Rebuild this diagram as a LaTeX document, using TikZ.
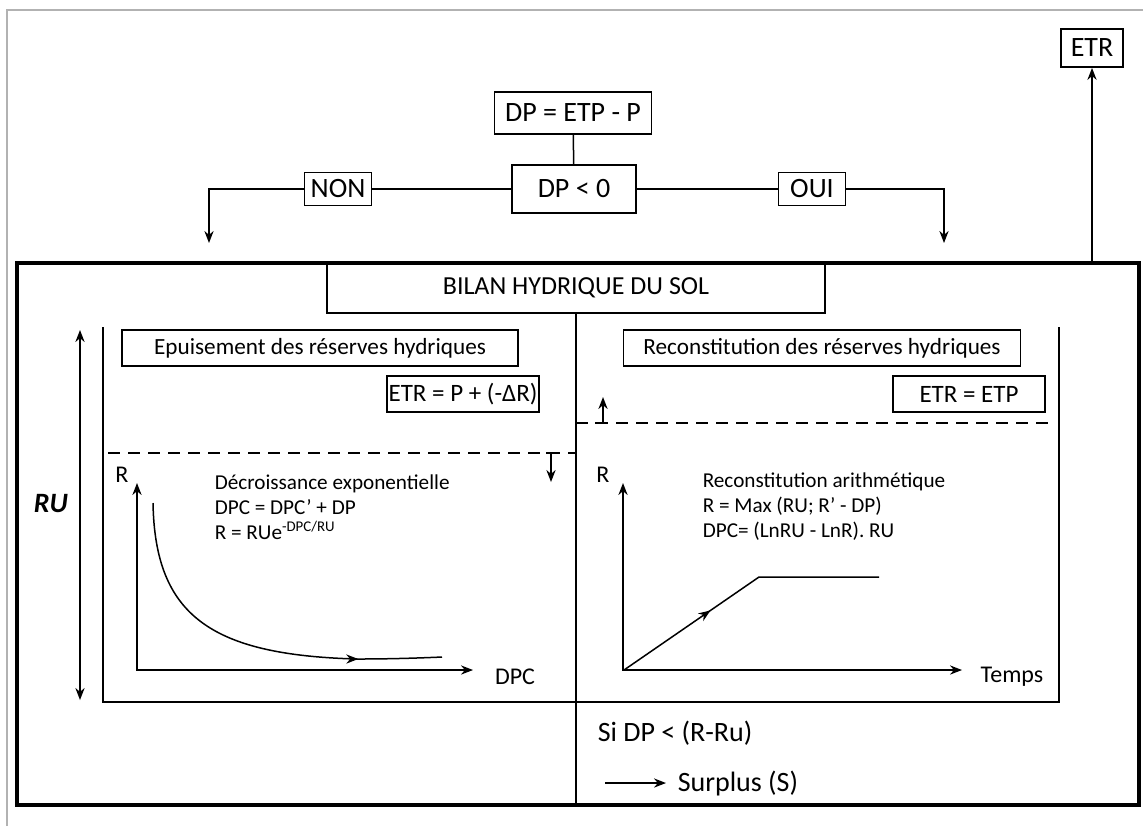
\documentclass[tikz,border=0pt]{standalone}
\usepackage{fontspec}
\setmainfont{Carlito}
\usepackage{tikz}
\usetikzlibrary{
        arrows.meta,
        decorations.markings,
        positioning
    }
\tikzset{>={Stealth[length=6pt,width=4.6pt]},auto}
\tikzset{
    box/.style={draw,line width=0.9pt,inner sep=0pt,font=\fontsize{14}{16}\selectfont},
    panelbox/.style={draw,line width=0.9pt,inner sep=0pt,minimum height=18pt,font=\fontsize{11.6}{14}\selectfont},
    formula/.style={anchor=west,align=left,inner sep=0pt,font=\fontsize{10.6}{12.5}\selectfont},
    midarrow/.style={postaction={decorate},decoration={markings,mark=at position #1 with {\arrow{>}}}}
}

\begin{document}
\begin{tikzpicture}[x=0.5pt,y=-0.5pt,line width=0.75pt,font=\fontsize{12}{14}\selectfont]
                    \useasboundingbox (0,0) rectangle (1143,826);
                    \draw[gray!60,line width=1pt] (7,826) -- (7,10) -- (1143,10);
                    \draw[line width=2pt] (17,263) rectangle (1139,805);

                    \node[box,minimum width=31pt,minimum height=19pt] (etr) at (1092,48) {ETR};
                    \node[box,minimum width=78.5pt,minimum height=21pt] (dp) at (573,113) {DP = ETP - P};
                    \node[box,minimum width=62pt,minimum height=24pt] (test) at (574,189) {DP < 0};
                    \node[box,minimum width=33.5pt,minimum height=16.5pt] (non) at (338,189) {NON};
                    \node[box,minimum width=33.5pt,minimum height=16.5pt] (oui) at (812,189) {OUI};
                    \coordinate (nonend) at (209,243);
                    \coordinate (ouiend) at (944,243);
                    \coordinate (solde) at (1092,263);
                    \path
                        (dp)  edge  (test)
                        (test)  edge  (non)
                        (test)  edge  (oui)
                    ;
                    \draw[->] (non) -| (nonend);
                    \draw[->] (oui) -| (ouiend);
                    \draw[->] (solde) -- (etr);

                    \node[box,minimum width=249pt,minimum height=25pt,font=\fontsize{13}{15}\selectfont] (bilan) at (576,288) {BILAN HYDRIQUE DU SOL};
                    \coordinate (fond) at (576,805);
                    \draw (bilan.south) -- (fond);
                    \draw (103,327) -- (103,702) -- (1059,702) -- (1059,327);

                    \node[panelbox,minimum width=198pt] (epuis) at (320,348) {Epuisement des réserves hydriques};
                    \node[panelbox,minimum width=198.5pt] (recon) at (822,348) {Reconstitution des réserves hydriques};
                    \node[panelbox,minimum width=76pt,font=\fontsize{12.5}{14}\selectfont] (etrp) at (463,394) {ETR = P + (-ΔR)};
                    \node[panelbox,minimum width=76pt,font=\fontsize{12.5}{14}\selectfont] (etretp) at (969,394) {ETR = ETP};

                    \draw[dash pattern=on 6pt off 4pt] (108,453) -- (576,453);
                    \draw[dash pattern=on 6pt off 4pt] (576,423) -- (1053,423);
                    \draw (546,453) -- (556,453);
                    \draw[->] (551,453) -- (551,482);
                    \draw (595,423) -- (603,423);
                    \draw[->] (603,423) -- (603,397);

                    \draw[<->] (80,330) -- (80,700);
                    \node[font=\bfseries\itshape\fontsize{14}{16}\selectfont] (ru) at (51,504) {RU};

                    \draw[<->] (137,483) -- (137,670) -- (473,670);
                    \node (r1) at (122,475) {R};
                    \node (dpc) at (515,677) {DPC};
                    \draw[midarrow=0.78] (153,503) .. controls (155,615) and (210,655) .. (357,659) .. controls (390,659) and (420,658) .. (442,657);
                    \node[formula] (decr) at (214,507) {Décroissance exponentielle\\DPC = DPC' + DP\\R = RUe\textsuperscript{-DPC/RU}};

                    \draw[<->] (623,483) -- (623,670) -- (962,670);
                    \node (r2) at (603,475) {R};
                    \node (temps) at (1012,677) {Temps};
                    \draw[midarrow=0.37] (624,670) -- (759,577) -- (879,577);
                    \node[formula] (recarith) at (702,507) {Reconstitution arithmétique\\R = Max (RU; R' - DP)\\DPC= (LnRU - LnR). RU};

                    \node[anchor=west,inner sep=0pt,font=\fontsize{14}{16}\selectfont] (si) at (597,733) {Si DP < (R-Ru)};
                    \coordinate (depart) at (605,783);
                    \node[anchor=west,inner sep=5.5pt,font=\fontsize{14}{16}\selectfont] (surplus) at (666,783) {Surplus (S)};
                    \draw[->] (depart) -- (surplus);
                \end{tikzpicture}
\end{document}
